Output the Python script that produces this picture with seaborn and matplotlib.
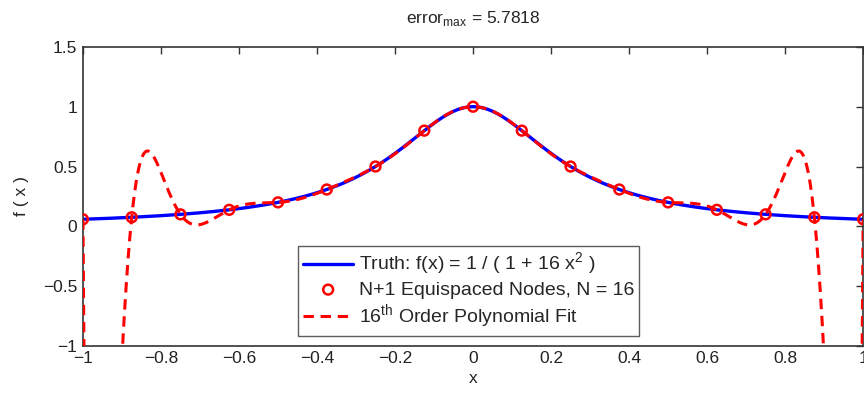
import numpy as np
import matplotlib
matplotlib.use("Agg")
import matplotlib.pyplot as plt
import seaborn as sns

# --- data ---
node_x = [-1.0, -0.875, -0.75, -0.625, -0.5, -0.375, -0.25, -0.125, 0.0,
          0.125, 0.25, 0.375, 0.5, 0.625, 0.75, 0.875, 1.0]
node_y = [0.058824, 0.075472, 0.1, 0.137931, 0.2, 0.307692, 0.5, 0.8, 1.0,
          0.8, 0.5, 0.307692, 0.2, 0.137931, 0.1, 0.075472, 0.058824]
x_ticks = [-1, -0.8, -0.6, -0.4, -0.2, 0, 0.2, 0.4, 0.6, 0.8, 1]
y_ticks = [-1, -0.5, 0, 0.5, 1, 1.5]
error_max = "5.7818"

sns.set_theme(style="white")
plt.rcParams['font.family'] = ['Liberation Sans', 'DejaVu Sans']
plt.rcParams['mathtext.fontset'] = 'custom'
plt.rcParams['mathtext.rm'] = 'Liberation Sans'

xx = np.linspace(-1, 1, 2001)
truth = 1.0 / (1.0 + 16.0 * xx ** 2)
poly = np.polynomial.Polynomial.fit(node_x, node_y, len(node_x) - 1)
fit = poly(xx)

fig = plt.figure(figsize=(8.64, 3.94), dpi=100)
ax = fig.add_axes([0.096, 0.122, 0.903, 0.759])

sns.lineplot(x=xx, y=truth, ax=ax, color="#0000ff", linewidth=2.4,
             label="Truth: f(x) = 1 / ( 1 + 16 x$^2$ )", zorder=2)
sns.scatterplot(x=node_x, y=node_y, ax=ax, marker="o", s=50,
                facecolor="none", edgecolor="#ff0000", linewidth=1.8,
                label="N+1 Equispaced Nodes, N = 16", zorder=4)
sns.lineplot(x=xx, y=fit, ax=ax, color="#ff0000", linewidth=2.2,
             linestyle=(0, (3.4, 2.2)), label="16$^{\\mathrm{th}}$ Order Polynomial Fit",
             zorder=3)

ax.set_xlim(-1, 1)
ax.set_ylim(-1, 1.5)
ax.set_xticks(x_ticks)
ax.set_xticklabels(["\u22121", "\u22120.8", "\u22120.6", "\u22120.4", "\u22120.2", "0",
                    "0.2", "0.4", "0.6", "0.8", "1"])
ax.set_yticks(y_ticks)
ax.set_yticklabels(["\u22121", "\u22120.5", "0", "0.5", "1", "1.5"])
ax.tick_params(direction="in", length=5, width=1, top=True, right=True,
               labelsize=12.5, colors="#333333", labelcolor="#222222", pad=4)
for s in ax.spines.values():
    s.set_color("#333333")
    s.set_linewidth(1.2)
ax.set_xlabel("x", fontsize=12.5, labelpad=3)
ax.set_ylabel("f ( x )", fontsize=12.5, labelpad=10)
ax.set_title("error$_{\\mathrm{max}}$ = " + error_max, fontsize=12.5, pad=17)

leg = ax.legend(loc="lower center", bbox_to_anchor=(0.4945, 0.02), fontsize=14,
                frameon=True, fancybox=False, edgecolor="#333333",
                handlelength=2.6, handletextpad=0.3, borderpad=0.25,
                labelspacing=0.2, borderaxespad=0.2)
leg.get_frame().set_linewidth(1.0)

fig.savefig("out.png", dpi=100)
